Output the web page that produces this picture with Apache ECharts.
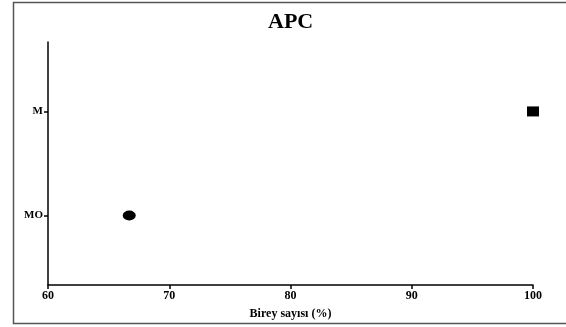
<!DOCTYPE html>
<html>
<head>
<meta charset="utf-8">
<script src="https://cdn.jsdelivr.net/npm/echarts@6/dist/echarts.min.js"></script>
<style>
  html, body { margin: 0; padding: 0; background: #fff; }
  #chart { width: 566px; height: 327px; }
</style>
</head>
<body>
<div id="chart"></div>
<script>
const categories = ['MO', 'M']
const values = [66.7, 100]
const symbols = ['circle', 'rect']
const xTicks = [60, 70, 80, 90, 100]

const chart = echarts.init(document.getElementById('chart'))
const font = "'Liberation Serif', 'DejaVu Serif', serif"

// y positions: category index + 1, so MO = 1, M = 2
const seriesData = values.map((v, i) => ({
  value: [v, i + 1],
  symbol: symbols[i],
  symbolSize: symbols[i] === 'circle' ? [13, 10] : [12, 10]
}))

const option = {
  animation: false,
  backgroundColor: '#fff',
  title: {
    text: 'APC',
    left: 263,
    top: 6,
    textStyle: { fontFamily: font, fontWeight: 'bold', fontSize: 22, color: '#000' }
  },
  graphic: [{
    type: 'rect',
    shape: { x: 13.5, y: 2.5, width: 570, height: 321 },
    style: { fill: 'none', stroke: '#555', lineWidth: 1.5 },
    silent: true
  }],
  grid: { left: 48, right: 33, top: 42, bottom: 42 },
  xAxis: {
    type: 'value',
    min: xTicks[0],
    max: xTicks[xTicks.length - 1],
    interval: 10,
    name: 'Birey sayısı (%)',
    nameLocation: 'middle',
    nameGap: 23,
    nameTextStyle: { fontFamily: font, fontWeight: 'bold', fontSize: 12, color: '#000' },
    axisLine: { lineStyle: { color: '#000', width: 1.5 } },
    axisTick: { show: true, length: 4, lineStyle: { color: '#000', width: 1.5 } },
    axisLabel: { fontFamily: font, fontWeight: 'bold', fontSize: 12, color: '#000', margin: 5 },
    splitLine: { show: false }
  },
  yAxis: {
    type: 'value',
    min: 1 / 3,
    max: 8 / 3,
    axisLine: { show: true, lineStyle: { color: '#000', width: 1.5 } },
    axisTick: {
      show: true, length: 4, customValues: [1, 2],
      lineStyle: { color: '#000', width: 1.5 }
    },
    axisLabel: {
      customValues: [1, 2],
      fontFamily: font, fontWeight: 'bold', fontSize: 11, color: '#000', margin: 5,
      formatter: v => categories[Math.round(v) - 1] || ''
    },
    splitLine: { show: false }
  },
  series: [{
    type: 'scatter',
    data: seriesData,
    itemStyle: { color: '#000', opacity: 1 }
  }]
}

chart.setOption(option)
</script>
</body>
</html>
